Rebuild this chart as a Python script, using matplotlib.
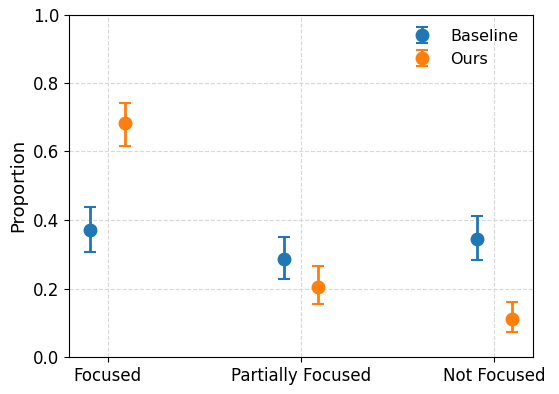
import numpy as np
import matplotlib; matplotlib.use('Agg')
from matplotlib import pyplot as plt

categories = ['Focused', 'Partially Focused', 'Not Focused']
baseline_mean = [0.370, 0.285, 0.344]
baseline_lo = [0.306, 0.227, 0.282]
baseline_hi = [0.439, 0.351, 0.413]
ours_mean = [0.683, 0.205, 0.111]
ours_lo = [0.617, 0.154, 0.074]
ours_hi = [0.743, 0.266, 0.161]

x = np.arange(len(categories))
offset = 0.09

fig = plt.figure(figsize=(5.59, 3.94), dpi=100)
ax = fig.add_axes([69 / 559, 1 - 357 / 394, (533 - 69) / 559, (357 - 14.5) / 394])

for xs, m, lo, hi, color, label in [
        (x - offset, baseline_mean, baseline_lo, baseline_hi, '#1f77b4', 'Baseline'),
        (x + offset, ours_mean, ours_lo, ours_hi, '#ff7f0e', 'Ours')]:
    m = np.array(m)
    yerr = [m - np.array(lo), np.array(hi) - m]
    ax.errorbar(xs, m, yerr=yerr, fmt='o', color=color, markersize=9,
                capsize=4, elinewidth=2, capthick=1.5, label=label)

ax.set_xticks(x)
ax.set_xticklabels(categories, fontsize=12)
ax.tick_params(axis='y', labelsize=12)
ax.set_ylabel('Proportion', fontsize=13)
ax.set_xlim(-0.2, 2.2)
ax.set_ylim(0, 1.0)
ax.grid(True, linestyle='--', color='#d8d8d8', linewidth=0.8)
ax.set_axisbelow(True)
ax.legend(frameon=False, fontsize=11.5, loc='upper right')

plt.savefig('out.png', dpi=100)
